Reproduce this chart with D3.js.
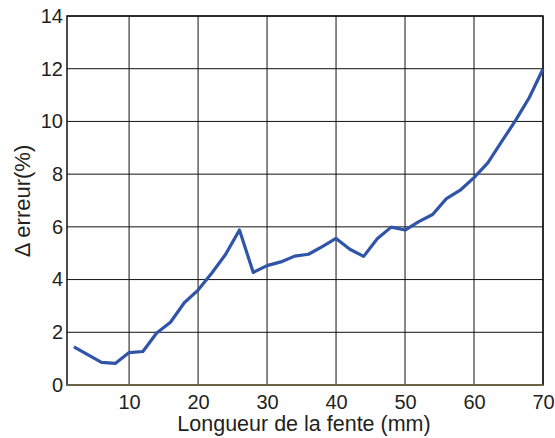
<!DOCTYPE html>
<html><head><meta charset="utf-8">
<script src="https://cdn.jsdelivr.net/npm/d3@7"></script>
<style>body{margin:0;background:#fff;} text{font-family:"Liberation Sans",Arial,sans-serif;fill:#231f20;}</style>
</head><body><svg id="c" width="555" height="438"></svg>
<script>
const xValues = [2,4,6,8,10,12,14,16,18,20,22,24,26,28,30,32,34,36,38,40,42,44,46,48,50,52,54,56,58,60,62,64,66,68,70];
const errValues = [1.45,1.15,0.86,0.82,1.23,1.27,1.97,2.38,3.12,3.6,4.25,4.96,5.88,4.27,4.53,4.67,4.89,4.96,5.25,5.56,5.15,4.88,5.56,5.99,5.88,6.2,6.47,7.07,7.39,7.87,8.43,9.23,10.03,10.9,11.99];
const xTicks = [10,20,30,40,50,60,70];
const yTicks = [0,2,4,6,8,10,12,14];
const xTitle = "Longueur de la fente (mm)";
const yTitle = "\u0394 erreur(%)";

const svg = d3.select("#c");
const L=67, R=543, T=16, B=385;
const x = d3.scaleLinear().domain([1,70]).range([L,R]);
const y = d3.scaleLinear().domain([0,14]).range([B,T]);

// grid
svg.append("g").selectAll("line").data(xTicks).join("line")
  .attr("x1",d=>x(d)).attr("x2",d=>x(d)).attr("y1",T).attr("y2",B)
  .attr("stroke","#111").attr("stroke-width",1);
svg.append("g").selectAll("line").data(yTicks).join("line")
  .attr("x1",L).attr("x2",R).attr("y1",d=>y(d)).attr("y2",d=>y(d))
  .attr("stroke","#111").attr("stroke-width",1);
// frame
svg.append("rect").attr("x",L).attr("y",T).attr("width",R-L).attr("height",B-T)
  .attr("fill","none").attr("stroke","#111").attr("stroke-width",1.5);
svg.append("line").attr("x1",L).attr("x2",R).attr("y1",B).attr("y2",B)
  .attr("stroke","#6b6346").attr("stroke-width",2);

// axes labels
const xa = svg.append("g").attr("transform",`translate(0,${B})`)
  .call(d3.axisBottom(x).tickValues(xTicks).tickSize(0).tickPadding(10).tickFormat(d3.format("d")));
xa.select(".domain").remove();
xa.selectAll("text").attr("font-size",20).attr("font-family","Liberation Sans, Arial, sans-serif").attr("fill","#231f20");
const ya = svg.append("g").attr("transform",`translate(${L},0)`)
  .call(d3.axisLeft(y).tickValues(yTicks).tickSize(0).tickPadding(4).tickFormat(d3.format("d")));
ya.select(".domain").remove();
ya.selectAll("text").attr("font-size",20).attr("font-family","Liberation Sans, Arial, sans-serif").attr("fill","#231f20");

svg.append("text").attr("x",304).attr("y",431).attr("text-anchor","middle")
  .attr("font-size",21.5).text(xTitle);
svg.append("text").attr("transform","translate(30,201) rotate(-90)").attr("text-anchor","middle")
  .attr("font-size",22).text(yTitle);

// line
svg.append("path").datum(xValues.map((d,i)=>[d,errValues[i]]))
  .attr("fill","none").attr("stroke","#2f54a8").attr("stroke-width",3.2).attr("stroke-linejoin","round")
  .attr("d",d3.line().x(d=>x(d[0])).y(d=>y(d[1])));
</script></body></html>
